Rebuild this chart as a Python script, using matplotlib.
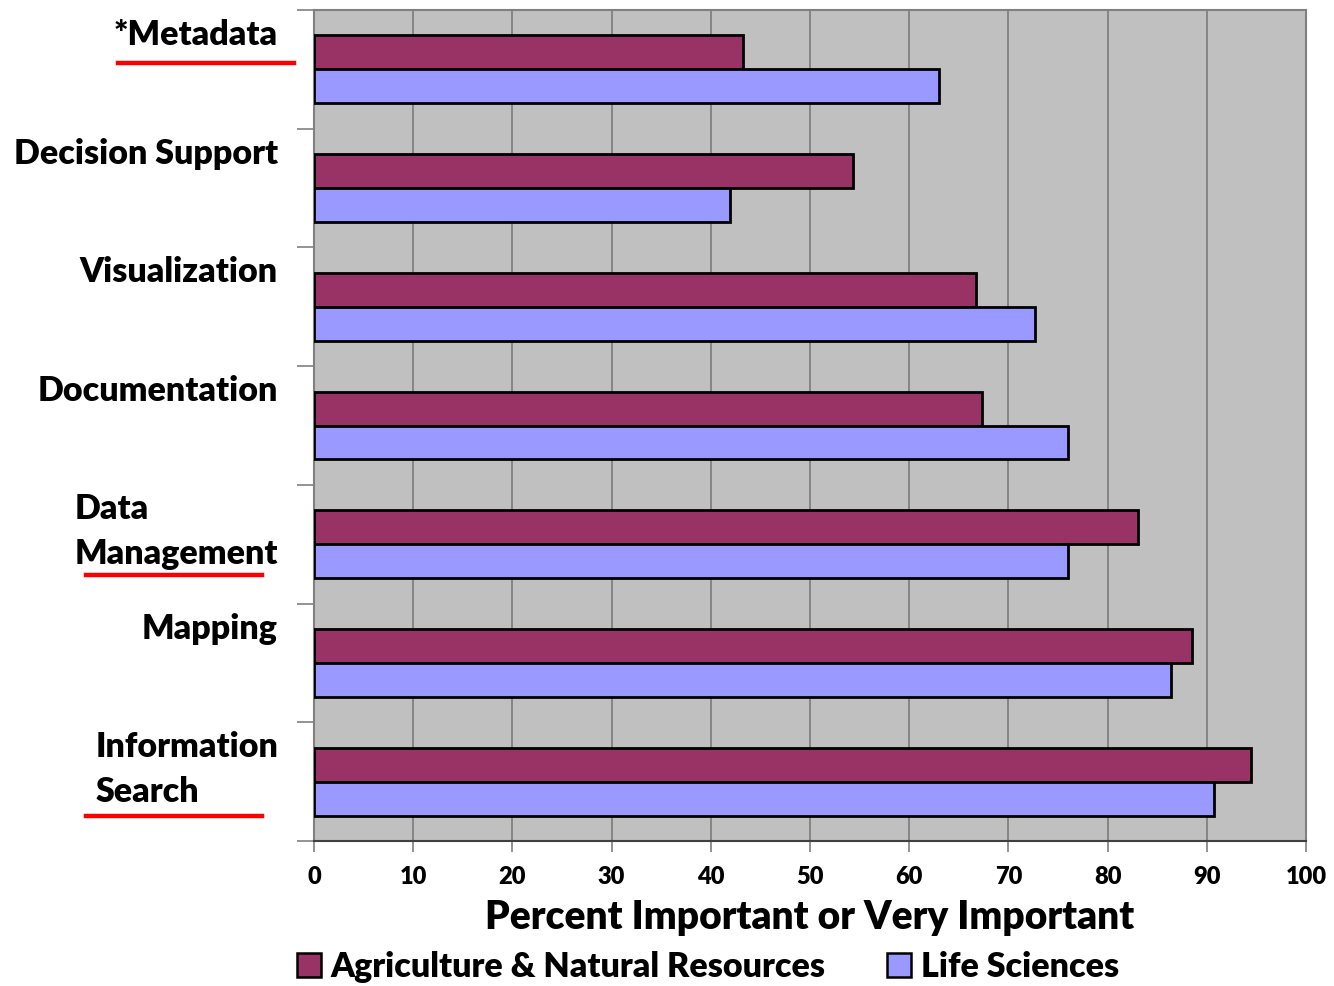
import matplotlib.pyplot as plt
import numpy as np
from matplotlib.lines import Line2D
from matplotlib.patches import Patch

# 数据
categories = ["*Metadata", "Decision Support", "Visualization", "Documentation",
              "Data\nManagement", "Mapping", "Information\nSearch"]
agriculture = [43.2, 54.3, 66.7, 67.3, 83.1, 88.5, 94.5]
life_sciences = [63.0, 41.9, 72.7, 76.0, 76.0, 86.4, 90.7]
series_names = ["Agriculture & Natural Resources", "Life Sciences"]
x_ticks = [0, 10, 20, 30, 40, 50, 60, 70, 80, 90, 100]

W, H = 1334, 986
FONT = ["Lato", "DejaVu Sans"]
WEIGHT = "heavy"
plt.rcParams["font.family"] = FONT
plt.rcParams["font.weight"] = WEIGHT

fig = plt.figure(figsize=(W / 100, H / 100), dpi=100)
ax = fig.add_axes([314 / W, (H - 841) / H, 992 / W, 831 / H])
ax.set_facecolor("#C0C0C0")

y = np.arange(len(categories))
h = 0.286
ax.barh(y - h / 2, agriculture, height=h, color="#993366", edgecolor="black", linewidth=2, zorder=3)
ax.barh(y + h / 2, life_sciences, height=h, color="#9999FF", edgecolor="black", linewidth=2, zorder=3)

ax.set_xlim(0, 100)
ax.set_ylim(len(categories) - 0.5, -0.5)
ax.set_xticks(x_ticks)
ax.set_xticklabels([str(t) for t in x_ticks], fontsize=17, fontweight=WEIGHT)
ax.tick_params(axis="x", length=8, width=1.2, color="#808080", pad=10)
ax.xaxis.grid(True, color="#808080", linewidth=1.3, zorder=0)
ax.set_axisbelow(True)

# y轴：类别边界处的刻度
ax.set_yticks(np.arange(len(categories) + 1) - 0.5)
ax.set_yticklabels([])
ax.tick_params(axis="y", length=12, width=1.2, color="#808080")

for s in ["top", "right", "left"]:
    ax.spines[s].set_color("#808080")
    ax.spines[s].set_linewidth(1.5)
ax.spines["bottom"].set_color("#404040")
ax.spines["bottom"].set_linewidth(1.5)

# 类别标签
label_offsets = [-0.29, -0.29, -0.29, -0.29, -0.105, -0.29, -0.105]
for i, (name, off) in enumerate(zip(categories, label_offsets)):
    ax.text(-36 / 9.92, i + off, name, ha="right", va="center", multialignment="left",
            fontsize=24.5, fontweight=WEIGHT, linespacing=1.5, clip_on=False)

ax.set_xlabel("Percent Important or Very Important", fontsize=28, fontweight=WEIGHT, labelpad=8)

# 红色下划线
for x0, x1, yy in [(118, 294, 63), (86, 262, 575), (86, 262, 816)]:
    fig.add_artist(Line2D([x0 / W, x1 / W], [1 - yy / H, 1 - yy / H], color="red", linewidth=3.2))

handles = [Patch(facecolor="#993366", edgecolor="black", linewidth=1.8),
           Patch(facecolor="#9999FF", edgecolor="black", linewidth=1.8)]
fig.legend(handles, series_names, loc="center", bbox_to_anchor=(708 / W, 1 - 967 / H),
           ncol=2, frameon=False, prop={"weight": WEIGHT, "size": 24.5},
           handlelength=0.7, handleheight=0.7, handletextpad=0.3, columnspacing=1.8)

fig.savefig("out.png", dpi=100)
